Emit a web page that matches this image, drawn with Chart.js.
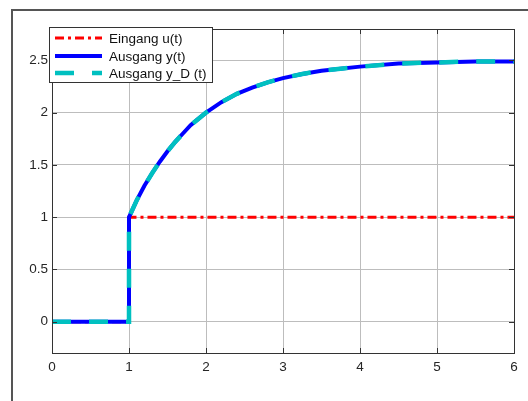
<!DOCTYPE html>
<html>
<head>
<meta charset="utf-8">
<script src="https://cdn.jsdelivr.net/npm/chart.js@4"></script>
<style>
  html, body { margin: 0; padding: 0; background: #fff; }
  #wrap { width: 528px; height: 401px; position: relative; }
</style>
</head>
<body>
<div id="wrap"><canvas id="step-chart" width="528" height="401"></canvas></div>
<script>
// step response data
const tIn = [0, 1, 1, 6];
const uIn = [0, 0, 1, 1];

const tOut = [0, 1, 1, 1.1, 1.2, 1.3, 1.4, 1.5, 1.6, 1.7, 1.8, 1.9, 2, 2.2, 2.4, 2.6, 2.8, 3, 3.25, 3.5, 4, 4.5, 5, 5.5, 6];
const yOut = [0, 0, 1, 1.16, 1.30, 1.42, 1.53, 1.63, 1.72, 1.80, 1.88, 1.94, 2.0, 2.10, 2.18, 2.24, 2.29, 2.33, 2.37, 2.40, 2.44, 2.47, 2.48, 2.49, 2.49];
const yOutD = [0, 0, 1, 1.16, 1.30, 1.42, 1.53, 1.63, 1.72, 1.80, 1.88, 1.94, 2.0, 2.10, 2.18, 2.24, 2.29, 2.33, 2.37, 2.40, 2.44, 2.47, 2.48, 2.49, 2.49];

const xTicks = [0, 1, 2, 3, 4, 5, 6];
const yTicks = [0, 0.5, 1, 1.5, 2, 2.5];

const labels = ['Eingang u(t)', 'Ausgang y(t)', 'Ausgang y_D (t)'];

const pts = (xs, ys) => xs.map((x, i) => ({x: x, y: ys[i]}));

const ds = [
    {
        label: labels[0],
        data: pts(tIn, uIn),
        borderColor: '#ff0000',
        borderWidth: 3,
        borderDash: [9, 4, 3, 4],
        order: 3
    },
    {
        label: labels[1],
        data: pts(tOut, yOut),
        borderColor: '#0000ff',
        borderWidth: 4,
        order: 2
    },
    {
        label: labels[2],
        data: pts(tOut, yOutD),
        borderColor: '#00c0c0',
        borderWidth: 4.5,
        borderDash: [19, 18],
        order: 1
    }
];
ds.forEach(d => {
    d.showLine = true;
    d.pointRadius = 0;
    d.tension = 0;
    d.fill = false;
});

const FONT = '"Liberation Sans", Arial, sans-serif';

// figure frame, axes box, inner ticks and legend
const decor = {
    id: 'decor',
    beforeDraw(chart) {
        const c = chart.ctx;
        c.save();
        c.strokeStyle = '#555';
        c.lineWidth = 2;
        c.beginPath();
        c.moveTo(12, 401);
        c.lineTo(12, 10);
        c.lineTo(528, 10);
        c.stroke();
        c.restore();
    },
    afterDraw(chart) {
        const c = chart.ctx;
        const a = chart.chartArea;
        const xs = chart.scales.x, ys = chart.scales.y;
        c.save();
        c.strokeStyle = '#333';
        c.lineWidth = 1;
        c.strokeRect(Math.round(a.left) + 0.5, Math.round(a.top) + 0.5,
            Math.round(a.right - a.left), Math.round(a.bottom - a.top));
        c.beginPath();
        xTicks.forEach(v => {
            const px = Math.round(xs.getPixelForValue(v)) + 0.5;
            c.moveTo(px, a.bottom); c.lineTo(px, a.bottom - 5);
            c.moveTo(px, a.top); c.lineTo(px, a.top + 5);
        });
        yTicks.forEach(v => {
            const py = Math.round(ys.getPixelForValue(v)) + 0.5;
            c.moveTo(a.left, py); c.lineTo(a.left + 5, py);
            c.moveTo(a.right, py); c.lineTo(a.right - 5, py);
        });
        c.stroke();

        // legend
        const lx = 49, ly = 27, lw = 163, lh = 55;
        c.fillStyle = '#fff';
        c.fillRect(lx, ly, lw, lh);
        c.strokeStyle = '#333';
        c.strokeRect(lx + 0.5, ly + 0.5, lw, lh);
        const rows = [38, 56, 73];
        chart.data.datasets.forEach((d, i) => {
            c.save();
            c.strokeStyle = d.borderColor;
            c.lineWidth = d.borderWidth;
            c.setLineDash(d.borderDash || []);
            c.beginPath();
            c.moveTo(55, rows[i]);
            c.lineTo(102, rows[i]);
            c.stroke();
            c.restore();
            c.fillStyle = '#111';
            c.font = '13.5px ' + FONT;
            c.textBaseline = 'middle';
            c.fillText(d.label, 109, rows[i] + 1);
        });
        c.restore();
    }
};

const tickFont = { family: FONT, size: 13.5 };

const cfg = {
    type: 'scatter',
    data: { datasets: ds },
    options: {
        responsive: false,
        animation: false,
        layout: { padding: { top: 29, right: 14, left: 0, bottom: 0 } },
        plugins: {
            legend: { display: false },
            tooltip: { enabled: false }
        },
        scales: {
            x: {
                type: 'linear',
                min: 0,
                max: 6,
                afterBuildTicks: ax => { ax.ticks = xTicks.map(v => ({value: v})); },
                afterFit: ax => { ax.height = 48; },
                grid: { color: '#bdbdbd', drawTicks: false },
                border: { display: false },
                ticks: {
                    padding: 6,
                    color: '#262626',
                    font: tickFont,
                    callback: v => String(v)
                }
            },
            y: {
                type: 'linear',
                min: -0.3,
                max: 2.8,
                afterBuildTicks: ax => { ax.ticks = yTicks.map(v => ({value: v})); },
                afterFit: ax => { ax.width = 52; },
                grid: { color: '#bdbdbd', drawTicks: false },
                border: { display: false },
                ticks: {
                    padding: 4,
                    color: '#262626',
                    font: tickFont,
                    callback: v => String(v)
                }
            }
        }
    },
    plugins: [decor]
};

var stepchart = new Chart(document.getElementById('step-chart'), cfg);
</script>
</body>
</html>
